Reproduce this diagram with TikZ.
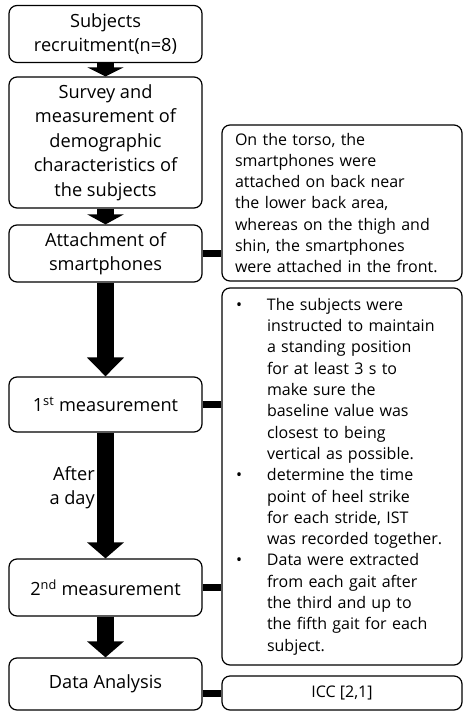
\documentclass[tikz,border=0pt]{standalone}
\usepackage{fontspec}
\setmainfont{Open Sans}
\usetikzlibrary{arrows.meta}
\begin{document}
\begin{tikzpicture}[x=1pt,y=-1pt,
  stepbox/.style={draw=black,line width=1.2pt,rounded corners=8pt,align=center,inner sep=2pt,
    font=\fontsize{18.2}{24.5}\selectfont,minimum width=193pt},
  notebox/.style={draw=black,line width=1.2pt,rounded corners=8pt,align=left,inner ysep=0pt,
    font=\fontsize{16}{21.3}\selectfont,minimum width=240pt},
  blockarrow/.style={line width=17pt,-{Triangle[width=36pt,length=16pt]}},
  tieline/.style={line width=7pt}]
\useasboundingbox (0,0) rectangle (469,718);
\node[stepbox,minimum height=57pt] (recruit) at (105.5,34) {Subjects\\recruitment(n=8)};
\node[stepbox,minimum height=131pt] (survey) at (105.5,142.5) {Survey and\\measurement of\\demographic\\characteristics of\\the subjects};
\node[stepbox,minimum height=57pt] (attach) at (105.5,253.5) {Attachment of\\smartphones};
\node[stepbox,minimum height=55pt] (meas1) at (105.5,404.5) {1\textsuperscript{st} measurement};
\node[stepbox,minimum height=57pt] (meas2) at (105.5,587.5) {2\textsuperscript{nd} measurement};
\node[stepbox,minimum height=52pt] (analysis) at (105.5,684) {Data Analysis};
\node[anchor=east,align=right,font=\fontsize{18.2}{24.5}\selectfont,inner sep=0pt] (delay) at (95,487.5) {After\\a day};
\node[notebox,minimum height=156pt,inner xsep=13pt,text width=214pt] (place) at (342,203) {On the torso, the\\smartphones were\\attached on back near\\the lower back area,\\whereas on the thigh and\\shin, the smartphones\\were attached in the front.};
\node[notebox,minimum height=377pt,inner xsep=14pt,text width=212pt] (proto) at (342,476.5) {\begin{tabular}{@{}p{31pt}@{}l@{}}
\textbullet & The subjects were\\
 & instructed to maintain\\
 & a standing position\\
 & for at least 3 s to\\
 & make sure the\\
 & baseline value was\\
 & closest to being\\
 & vertical as possible.\\
\textbullet & determine the time\\
 & point of heel strike\\
 & for each stride, IST\\
 & was recorded together.\\
\textbullet & Data were extracted\\
 & from each gait after\\
 & the third and up to\\
 & the fifth gait for each\\
 & subject.
\end{tabular}};
\node[notebox,minimum height=34pt,align=center] (icc) at (342,693) {ICC [2,1]};
\draw[blockarrow,-{Triangle[width=36pt,length=9pt]}] (recruit) -- (survey);
\draw[blockarrow,-{Triangle[width=36pt,length=10pt]}] (survey) -- (attach);
\draw[blockarrow,-{Triangle[width=36pt,length=19pt]}] (attach) -- (meas1);
\draw[blockarrow] (meas1) -- (meas2);
\draw[blockarrow] (meas2) -- (analysis);
\draw[tieline] (attach.east) -- (place.west |- attach.east);
\draw[tieline] (meas1.east) -- (proto.west |- meas1.east);
\draw[tieline] (meas2.east) -- (proto.west |- meas2.east);
\draw[tieline] (analysis.east |- icc.center) -- (icc.west);
\end{tikzpicture}
\end{document}
